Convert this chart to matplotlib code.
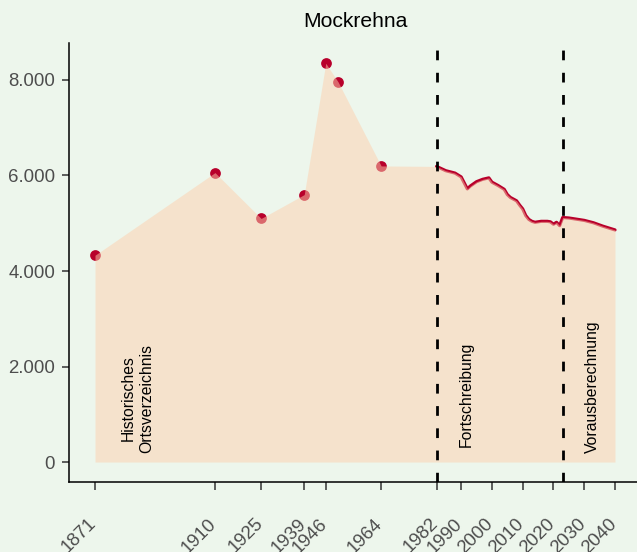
import matplotlib
matplotlib.use("Agg")
import matplotlib.pyplot as plt
import matplotlib.transforms as mtransforms
import numpy as np

plt.rcParams['font.family'] = ['Liberation Sans', 'DejaVu Sans']

title = "Mockrehna"

# Historical census points (Historisches Ortsverzeichnis)
hist_years = [1871, 1910, 1925, 1939, 1946, 1950, 1964]
hist_values = [4330, 6060, 5100, 5600, 8350, 7960, 6200]

# Fortschreibung (updated population)
fort_years = [1982, 1985, 1988, 1990, 1992, 1993, 1995, 1997, 1999, 2000, 2002,
              2003, 2004, 2005, 2006, 2008, 2009, 2010, 2011, 2012, 2013, 2014,
              2016, 2018, 2019, 2020, 2021, 2022]
fort_values = [6190, 6100, 6050, 5970, 5720, 5780, 5870, 5920, 5950, 5860, 5790,
               5750, 5710, 5600, 5540, 5470, 5380, 5300, 5160, 5080, 5040, 5020,
               5040, 5040, 5030, 4980, 5020, 4950]

# Vorausberechnung (projection)
proj_years = [2023, 2025, 2027, 2030, 2033, 2036, 2040]
proj_values = [5120, 5110, 5090, 5060, 5010, 4940, 4860]

break_years = [1982, 2023]
xtick_years = [1871, 1910, 1925, 1939, 1946, 1964, 1982, 1990, 2000, 2010, 2020, 2030, 2040]
ytick_values = [0, 2000, 4000, 6000, 8000]
ytick_labels = ["0", "2.000", "4.000", "6.000", "8.000"]

period_labels = ["Historisches\nOrtsverzeichnis", "Fortschreibung", "Vorausberechnung"]
period_label_x = [1884.7, 1991.6, 2032.7]
period_label_y = [195, 305, 195]

bg = "#edf6ec"
red = "#b8002b"
fill_col = "#fdd0ae"
tick_grey = "#4d4d4d"

W, H = 637, 552
fig = plt.figure(figsize=(W / 100, H / 100), dpi=100, facecolor=bg)
ax = fig.add_axes([69 / W, 1 - 482 / H, (641 - 69) / W, (482 - 43.3) / H])
ax.set_facecolor(bg)

line_years = fort_years + proj_years
line_values = fort_values + proj_values

ax.plot(line_years, line_values, color=red, lw=2.3, zorder=2, solid_capstyle='round')
ax.scatter(hist_years, hist_values, s=60, color=red, zorder=2, linewidths=0)

all_years = hist_years + line_years
all_values = hist_values + line_values
ax.fill_between(all_years, 0, all_values, color=fill_col, alpha=0.5, lw=0, zorder=3)

for by in break_years:
    ax.axvline(by, color="black", lw=2.0, linestyle=(0, (3.5, 4.5)), zorder=4)

for lab, lx, ly in zip(period_labels, period_label_x, period_label_y):
    ax.text(lx, ly, lab, rotation=90, ha='center', va='bottom', fontsize=11.3,
            color='black', zorder=5, linespacing=1.3)

ax.set_xlim(1862.55, 2048.45)
ax.set_ylim(-417.5, 8767.5)

ax.set_yticks(ytick_values)
ax.set_yticklabels(ytick_labels)
ax.set_xticks(xtick_years)
ax.set_xticklabels([str(y) for y in xtick_years])

for s in ['top', 'right']:
    ax.spines[s].set_visible(False)
for s in ['left', 'bottom']:
    ax.spines[s].set_color('black')
    ax.spines[s].set_linewidth(1.1)

ax.tick_params(axis='y', length=5, width=1.1, color='#333333', labelsize=13.4,
               labelcolor=tick_grey, pad=5)
ax.tick_params(axis='x', length=5.8, width=1.1, color='#333333', labelsize=13.4,
               labelcolor=tick_grey, pad=18)

offset = mtransforms.ScaledTranslation(5 / 100, 0, fig.dpi_scale_trans)
for lbl in ax.get_xticklabels():
    lbl.set_rotation(45)
    lbl.set_ha('right')
    lbl.set_va('top')
    lbl.set_transform(lbl.get_transform() + offset)

fig.text(355 / W, 1 - 26.7 / H, title, ha='center', va='baseline', fontsize=15.2,
         color='black')

fig.savefig("out.png", dpi=100, facecolor=bg)
